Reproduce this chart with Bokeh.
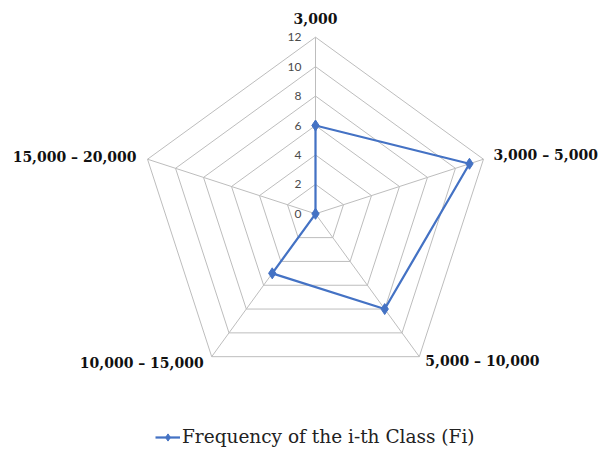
import numpy as np
from bokeh.plotting import figure
from bokeh.models import Range1d, Legend, LegendItem
from bokeh.core.properties import value
from bokeh.embed import file_html
from bokeh.resources import INLINE

# ---- data ----
categories = ["3,000", "3,000 – 5,000", "5,000 – 10,000", "10,000 – 15,000", "15,000 – 20,000"]
values = [6, 11, 8, 5, 0]
tick_values = [0, 2, 4, 6, 8, 10, 12]
tick_labels = ["0", "2", "4", "6", "8", "10", "12"]
series_name = "Frequency of the i-th Class (Fi)"

# ---- styles / positions ----
label_x_off = [0, 10, 6, -8, -11]
label_y_off = [-19, -4, 4, 6, -2]
label_align = ["center", "left", "left", "right", "right"]
BLUE = "#4472C4"
GRID = "#BDBDBD"

W, H = 600, 450
scale = 176.6 / 12.0
cx, cy = 315.0, 213.3

p = figure(width=W, height=H, output_backend="svg", toolbar_location=None,
           x_axis_type=None, y_axis_type=None, min_border=0,
           x_range=Range1d(-cx / scale, (W - cx) / scale),
           y_range=Range1d(-(H - cy) / scale, cy / scale))
p.outline_line_color = None
p.background_fill_color = "white"

R = max(tick_values)
n = len(categories)
ang = np.pi / 2 - 2 * np.pi * np.arange(n) / n
cosa, sina = np.cos(ang), np.sin(ang)

# grid rings
ring_xs, ring_ys = [], []
for t in tick_values[1:]:
    ring_xs.append(list(t * cosa) + [t * cosa[0]])
    ring_ys.append(list(t * sina) + [t * sina[0]])
p.multi_line(ring_xs, ring_ys, line_color=GRID, line_width=1)
# spokes
p.multi_line([[0, R * c] for c in cosa], [[0, R * s] for s in sina], line_color=GRID, line_width=1)

# tick labels
p.text(x=[0] * len(tick_values), y=tick_values, text=tick_labels, x_offset=-14,
       text_align="right", text_baseline="middle", text_font=value("Lato"),
       text_font_size="12px", text_color="#4a4a4a")

# category labels
p.text(x=list(R * cosa), y=list(R * sina), text=categories,
       x_offset=label_x_off, y_offset=label_y_off, text_align=label_align,
       text_baseline="middle", text_font=value("DejaVu Serif"), text_font_style="bold",
       text_font_size="14px", text_color="#111111")

# data series
vals = np.array(values, dtype=float)
xs = list(vals * cosa) + [vals[0] * cosa[0]]
ys = list(vals * sina) + [vals[0] * sina[0]]
lr = p.line(xs, ys, line_color=BLUE, line_width=2.25)
sr = p.scatter(list(vals * cosa), list(vals * sina), marker="diamond", size=11,
               fill_color=BLUE, line_color=BLUE)

legend = Legend(items=[LegendItem(label=series_name, renderers=[lr, sr])],
                location=(155, 3), orientation="horizontal", padding=0, margin=0,
                border_line_color=None, background_fill_alpha=0,
                glyph_width=25, glyph_height=18, label_height=18, label_standoff=2,
                label_text_font="DejaVu Serif", label_text_font_size="18.5px",
                label_text_color="#222222")
p.add_layout(legend)

open("out.html", "w").write(file_html(p, INLINE))
